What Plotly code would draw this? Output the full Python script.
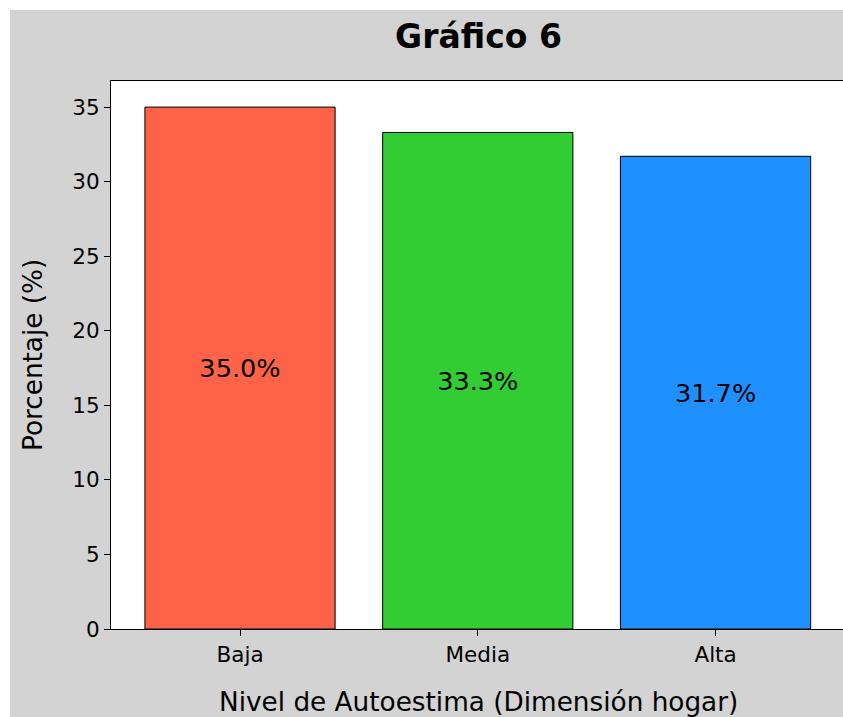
import plotly.graph_objects as go

categories = ["Baja", "Media", "Alta"]
percentages = [35.0, 33.3, 31.7]
bar_colors = ["#FF6347", "#32CD32", "#1E90FF"]
y_ticks = [0, 5, 10, 15, 20, 25, 30, 35]

W, H = 843, 717
L, R, T, B = 111, 0, 81, 88
pw, ph = W - L - R, H - T - B

def px_x(p):
    return (p - L) / pw

def px_y(p):
    return (H - B - p) / ph

FONT = "DejaVu Sans"

fig = go.Figure(
    go.Bar(
        x=categories,
        y=percentages,
        width=0.8,
        marker=dict(color=bar_colors, line=dict(color="black", width=1)),
        text=[f"{v:.1f}%" for v in percentages],
        textposition="inside",
        insidetextanchor="middle",
        textangle=0,
        textfont=dict(family=FONT, size=25.6, color="black"),
        hoverinfo="skip",
    )
)

fig.update_layout(
    width=W,
    height=H,
    margin=dict(l=L, r=R, t=T, b=B, pad=0),
    paper_bgcolor="#D3D3D3",
    plot_bgcolor="white",
    showlegend=False,
    title=dict(
        text="<b>Gráfico 6</b>",
        x=px_x(478.5), xref="paper", xanchor="center",
        y=1 - 36 / H, yref="container", yanchor="middle",
        font=dict(family=FONT, size=33, color="black"),
    ),
    font=dict(family=FONT, color="black"),
    xaxis=dict(
        type="category",
        range=[-0.5426, 2.536],
        showline=True, linecolor="black", linewidth=1, mirror=True,
        ticks="outside", ticklen=6, tickcolor="black", tickwidth=1,
        tickfont=dict(family=FONT, size=21.5, color="black"),
        showgrid=False, zeroline=False,
    ),
    yaxis=dict(
        range=[0, 36.75],
        tickvals=y_ticks,
        showline=True, linecolor="black", linewidth=1, mirror=False,
        ticks="outside", ticklen=6, tickcolor="black", tickwidth=1,
        tickfont=dict(family=FONT, size=21.5, color="black"),
        showgrid=False, zeroline=False,
    ),
    annotations=[
        dict(text="Porcentaje (%)", xref="paper", yref="paper",
             x=px_x(33), y=0.5, xanchor="center", yanchor="middle",
             textangle=-90, showarrow=False,
             font=dict(family=FONT, size=26.3, color="black")),
        dict(text="Nivel de Autoestima (Dimensión hogar)", xref="paper", yref="paper",
             x=px_x(478.5), y=px_y(702), xanchor="center", yanchor="middle",
             showarrow=False,
             font=dict(family=FONT, size=26.3, color="black")),
    ],
    shapes=[
        dict(type="rect", xref="paper", yref="paper", layer="above",
             x0=px_x(0), x1=px_x(10), y0=px_y(H), y1=px_y(0),
             fillcolor="white", line=dict(width=0)),
        dict(type="rect", xref="paper", yref="paper", layer="above",
             x0=px_x(0), x1=px_x(W), y0=px_y(10), y1=px_y(0),
             fillcolor="white", line=dict(width=0)),
    ],
)

fig.write_html(
    "out.html",
    config={"displayModeBar": False},
    post_script="document.body.style.margin='0px';document.body.style.overflow='hidden';",
)
